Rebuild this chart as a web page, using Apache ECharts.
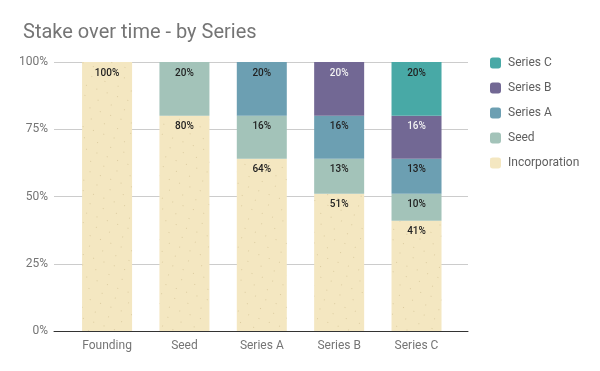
<!DOCTYPE html>
<html><head><meta charset="utf-8">
<script src="https://cdn.jsdelivr.net/npm/echarts@6/dist/echarts.min.js"></script>
<style>html,body{margin:0;padding:0;background:#fff}#c{width:600px;height:371px}</style>
</head><body><div id="c"></div>
<script>
const categories = ['Founding', 'Seed', 'Series A', 'Series B', 'Series C'];
const incorporation = [100, 80, 64, 51, 41];
const seed = [0, 20, 16, 13, 10];
const seriesA = [0, 0, 20, 16, 13];
const seriesB = [0, 0, 0, 20, 16];
const seriesC = [0, 0, 0, 0, 20];
const yTicks = [0, 25, 50, 75, 100];
const seriesNames = ['Incorporation', 'Seed', 'Series A', 'Series B', 'Series C'];
const legendOrder = ['Series C', 'Series B', 'Series A', 'Seed', 'Incorporation'];

const colors = ['#F4E7C1', '#A3C3B9', '#6C9FB2', '#726894', '#48A9A6'];
const labelColors = ['#222', '#222', '#222', '#f2f2f2', '#222'];
const values = [incorporation, seed, seriesA, seriesB, seriesC];

const chart = echarts.init(document.getElementById('c'), null, {renderer: 'canvas'});
const font = 'Roboto, sans-serif';
chart.setOption({
  animation: false,
  aria: {enabled: true, decal: {show: true}},
  color: colors,
  title: {
    text: 'Stake over time - by Series', left: 18, top: 18,
    textStyle: {fontFamily: font, fontSize: 20, fontWeight: 'normal', color: '#757575'}
  },
  legend: {
    data: legendOrder, orient: 'vertical', left: 485, top: 52, itemGap: 13,
    itemWidth: 11, itemHeight: 11, icon: 'roundRect',
    textStyle: {fontFamily: font, fontSize: 12, color: '#5f5f5f', padding: [0, 0, 0, 2]}
  },
  grid: [
    {left: 54, right: 132, top: 62, bottom: 40},
    {left: 68.4, right: 144.8, top: 62, bottom: 40}
  ],
  xAxis: [
    {gridIndex: 0, type: 'category', data: categories, axisLabel: {show: false}, axisTick: {show: false},
     axisLine: {lineStyle: {color: '#333', width: 1}}, z: 10},
    {gridIndex: 1, type: 'category', data: categories, axisTick: {show: false}, axisLine: {show: false},
     axisLabel: {fontFamily: font, fontSize: 12, color: '#757575', margin: 9}}
  ],
  yAxis: [
    {gridIndex: 0, type: 'value', min: 0, max: 100, interval: 25,
     axisLabel: {fontFamily: font, fontSize: 12, color: '#757575', margin: 6,
       formatter: v => yTicks.includes(v) ? v + '%' : ''},
     splitLine: {lineStyle: {color: '#cccccc'}}, axisLine: {show: false}, axisTick: {show: false}},
    {gridIndex: 1, type: 'value', min: 0, max: 100, show: false, splitLine: {show: false}}
  ],
  series: seriesNames.map((name, i) => ({
    name, type: 'bar', stack: 'total', xAxisIndex: 1, yAxisIndex: 1, barWidth: 50,
    data: values[i],
    itemStyle: {color: colors[i], decal: i === 0 ? {
      symbol: 'rect', symbolSize: 1, color: 'rgba(190,170,120,0.45)',
      dashArrayX: [[1, 10], [1, 13]], dashArrayY: [1, 9], rotation: 0.35
    } : {symbol: 'none'}},
    label: {
      show: true, position: 'insideTop', distance: 6,
      fontFamily: font, fontSize: 10, fontWeight: 500, color: labelColors[i],
      formatter: p => p.value ? p.value + '%' : ''
    }
  }))
});
</script></body></html>
